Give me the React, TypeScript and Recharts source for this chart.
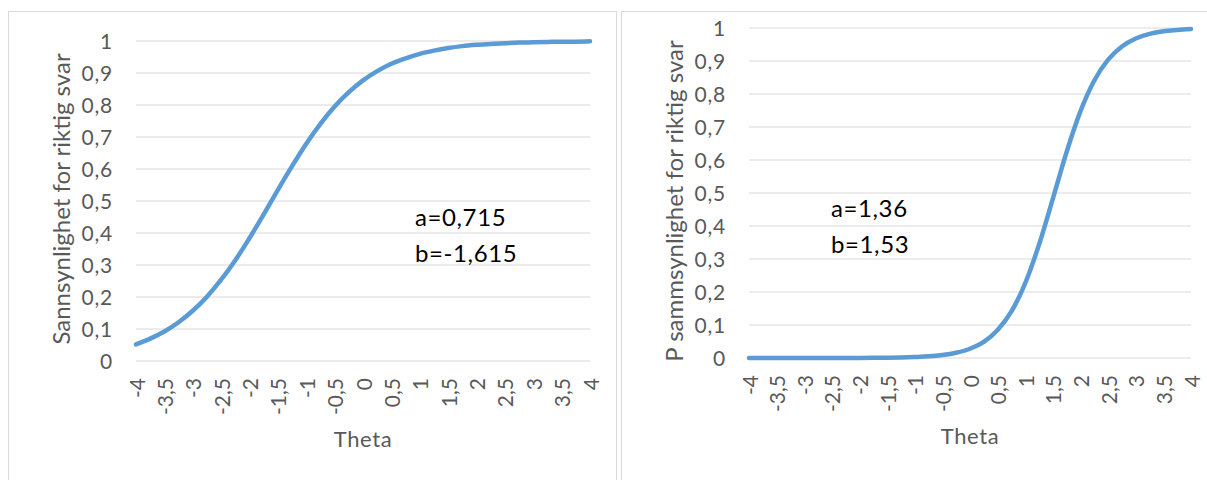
import React from 'react';
import { LineChart, Line, XAxis, YAxis, CartesianGrid, Label, Customized } from 'recharts';

// Ability levels (theta) at which the item characteristic curves are sampled
const thetaValues = [
  -4, -3.75, -3.5, -3.25, -3, -2.75, -2.5, -2.25, -2, -1.75, -1.5, -1.25, -1, -0.75, -0.5, -0.25,
  0, 0.25, 0.5, 0.75, 1, 1.25, 1.5, 1.75, 2, 2.25, 2.5, 2.75, 3, 3.25, 3.5, 3.75, 4,
];

// Item 1 (a=0,715, b=-1,615): probability of a correct answer
const easyItemP = [
  0.052, 0.07, 0.092, 0.121, 0.157, 0.201, 0.254, 0.315, 0.384, 0.458, 0.535, 0.609, 0.679, 0.741,
  0.795, 0.84, 0.877, 0.906, 0.929, 0.946, 0.96, 0.97, 0.978, 0.984, 0.988, 0.991, 0.993, 0.995,
  0.996, 0.997, 0.998, 0.998, 0.999,
];

// Item 2 (a=1,36, b=1,53): probability of a correct answer
const hardItemP = [
  0, 0, 0, 0, 0, 0, 0.0001, 0.0002, 0.0003, 0.0005, 0.0009, 0.0016, 0.003, 0.005, 0.009, 0.016,
  0.028, 0.049, 0.085, 0.141, 0.227, 0.344, 0.483, 0.625, 0.748, 0.841, 0.904, 0.944, 0.968,
  0.982, 0.99, 0.994, 0.997,
];

const thetaTicks = [-4, -3.5, -3, -2.5, -2, -1.5, -1, -0.5, 0, 0.5, 1, 1.5, 2, 2.5, 3, 3.5, 4];
const probabilityTicks = [0, 0.1, 0.2, 0.3, 0.4, 0.5, 0.6, 0.7, 0.8, 0.9, 1];

const xTitle = 'Theta';
const leftYTitle = 'Sannsynlighet for riktig svar';
const rightYTitle = 'P sammsynlighet for riktig svar';
const leftParams = ['a=0,715', 'b=-1,615'];
const rightParams = ['a=1,36', 'b=1,53'];

const FONT = 'Lato, "Open Sans", sans-serif';
const AXIS_TEXT = '#595959';
const GRID = '#D9D9D9';
const CURVE = '#5B9BD5';
const FRAME = '#D9D9D9';

const leftData = thetaValues.map((theta, i) => ({ theta, p: easyItemP[i] }));
const rightData = thetaValues.map((theta, i) => ({ theta, p: hardItemP[i] }));

const fmt = (v: number) => String(v).replace('.', ',');

function YTick(props: any) {
  const { x, y, payload } = props;
  return (
    <text
      x={x}
      y={y}
      dy="0.36em"
      textAnchor="end"
      fill={AXIS_TEXT}
      fontSize={21}
      fontFamily={FONT}
      letterSpacing={0.8}
    >
      {fmt(payload.value)}
    </text>
  );
}

function XTick(props: any) {
  const { x, y, payload } = props;
  return (
    <text
      x={x + 1}
      y={y}
      dy="0.36em"
      textAnchor="end"
      transform={`rotate(-90, ${x + 1}, ${y})`}
      fill={AXIS_TEXT}
      fontSize={21}
      fontFamily={FONT}
    >
      {fmt(payload.value)}
    </text>
  );
}

const xTitleContent = (props: any) => {
  const vb = props.viewBox || {};
  const cx = vb.x + vb.width / 2;
  const cy = vb.y + 78;
  return (
    <text
      x={cx}
      y={cy}
      dy="0.36em"
      textAnchor="middle"
      fill={AXIS_TEXT}
      fontSize={22}
      fontFamily={FONT}
      letterSpacing={0.6}
    >
      {xTitle}
    </text>
  );
};

const yTitleContent = (text: string, gap: number, shift: number) => (props: any) => {
  const vb = props.viewBox || {};
  const cx = vb.x + vb.width - gap;
  const cy = vb.y + vb.height / 2 + shift;
  return (
    <text
      x={cx}
      y={cy}
      dy="0.36em"
      textAnchor="middle"
      transform={`rotate(-90, ${cx}, ${cy})`}
      fill={AXIS_TEXT}
      fontSize={24}
      fontFamily={FONT}
    >
      {text}
    </text>
  );
};

function ParamBox({ lines, x, y }: { lines: string[]; x: number; y: number }) {
  return (
    <g>
      {lines.map((line, i) => (
        <text
          key={line}
          x={x}
          y={y + i * 36}
          fill="#000"
          fontSize={24}
          fontFamily={FONT}
          letterSpacing={0.6}
        >
          {line}
        </text>
      ))}
    </g>
  );
}

interface PanelProps {
  data: { theta: number; p: number }[];
  width: number;
  top: number;
  right: number;
  yAxisWidth: number;
  xAxisHeight: number;
  yTitle: string;
  yTitleShift: number;
  params: string[];
  paramsX: number;
  paramsY: number;
}

function IccPanel(p: PanelProps) {
  return (
    <LineChart
      width={p.width}
      height={480}
      data={p.data}
      margin={{ top: p.top, right: p.right, bottom: 0, left: 0 }}
    >
      <CartesianGrid vertical={false} stroke={GRID} strokeWidth={1.2} />
      <XAxis
        type="number"
        dataKey="theta"
        domain={[-4, 4]}
        ticks={thetaTicks}
        interval={0}
        height={p.xAxisHeight}
        axisLine={false}
        tickLine={false}
        tickSize={0}
        tickMargin={17}
        tick={<XTick />}
      >
        <Label content={xTitleContent} />
      </XAxis>
      <YAxis
        type="number"
        domain={[0, 1]}
        ticks={probabilityTicks}
        interval={0}
        width={p.yAxisWidth}
        axisLine={false}
        tickLine={false}
        tickSize={0}
        tickMargin={23}
        tick={<YTick />}
      >
        <Label content={yTitleContent(p.yTitle, 75, p.yTitleShift)} />
      </YAxis>
      <Line
        type="monotone"
        dataKey="p"
        stroke={CURVE}
        strokeWidth={4.5}
        strokeLinecap="round"
        dot={false}
        activeDot={false}
        isAnimationActive={false}
      />
      <Customized component={<ParamBox lines={p.params} x={p.paramsX} y={p.paramsY} />} />
    </LineChart>
  );
}

export default function App() {
  return (
    <div
      style={{
        position: 'fixed',
        left: 0,
        top: 0,
        width: 1207,
        height: 480,
        overflow: 'hidden',
        background: '#fff',
      }}
    >
      <div
        style={{
          position: 'absolute',
          left: 8,
          top: 11,
          width: 609,
          height: 500,
          border: `1px solid ${FRAME}`,
          boxSizing: 'border-box',
        }}
      />
      <div
        style={{
          position: 'absolute',
          left: 621,
          top: 11,
          width: 600,
          height: 500,
          border: `1px solid ${FRAME}`,
          boxSizing: 'border-box',
        }}
      />
      <div style={{ position: 'absolute', left: 0, top: 0 }}>
        <IccPanel
          data={leftData}
          width={618}
          top={41}
          right={28}
          yAxisWidth={136}
          xAxisHeight={119}
          yTitle={leftYTitle}
          yTitleShift={-2}
          params={leftParams}
          paramsX={415}
          paramsY={226}
        />
      </div>
      <div style={{ position: 'absolute', left: 618, top: 0 }}>
        <IccPanel
          data={rightData}
          width={589}
          top={28}
          right={16}
          yAxisWidth={131}
          xAxisHeight={122}
          yTitle={rightYTitle}
          yTitleShift={8}
          params={rightParams}
          paramsX={213}
          paramsY={217}
        />
      </div>
    </div>
  );
}
